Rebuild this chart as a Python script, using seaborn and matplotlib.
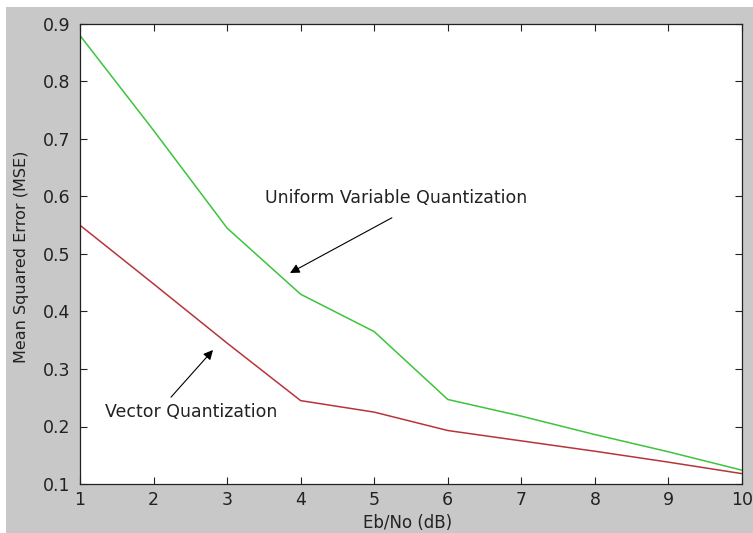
import numpy as np
import pandas as pd
import matplotlib
matplotlib.use("Agg")
import matplotlib.pyplot as plt
from matplotlib.patches import Rectangle
import seaborn as sns

# values
ebno = [1, 2, 3, 4, 5, 6, 7, 8, 9, 10]
mse_uniform = [0.880, 0.715, 0.545, 0.430, 0.365, 0.247, 0.218, 0.186, 0.156, 0.124]
mse_vector = [0.550, 0.448, 0.345, 0.245, 0.225, 0.193, 0.175, 0.157, 0.138, 0.118]
x_ticks = [1, 2, 3, 4, 5, 6, 7, 8, 9, 10]
y_ticks = [0.1, 0.2, 0.3, 0.4, 0.5, 0.6, 0.7, 0.8, 0.9]

df = pd.DataFrame({"ebno": ebno, "uniform": mse_uniform, "vector": mse_vector})

sns.set_style("ticks")
plt.rcParams["font.family"] = ["DejaVu Sans"]

gray = "#c8c8c8"
W, H = 753, 533
fig = plt.figure(figsize=(W / 100, H / 100), dpi=100, facecolor="white")
# gray window area, leaving a thin white strip on top and left
fig.patches.append(Rectangle((6 / W, 0), 1, 1 - 7 / H, transform=fig.transFigure,
                             facecolor=gray, edgecolor="none", zorder=-10))
ax = fig.add_axes([80 / W, 1 - 484 / H, (742 - 80) / W, (484 - 24) / H])
ax.set_facecolor("white")

sns.lineplot(data=df, x="ebno", y="uniform", ax=ax, color="#3cc43c", linewidth=1.1)
sns.lineplot(data=df, x="ebno", y="vector", ax=ax, color="#b8343a", linewidth=1.1)

ax.set_xlim(1, 10)
ax.set_ylim(0.1, 0.9)
ax.set_xticks(x_ticks)
ax.set_yticks(y_ticks)
ax.set_xticklabels([str(t) for t in x_ticks])
ax.set_yticklabels([f"{t:.1f}" for t in y_ticks])
ax.tick_params(direction="in", length=5, width=0.8, top=True, right=True,
               labelsize=12.5, colors="#222222")
ax.tick_params(axis="x", pad=5)
ax.tick_params(axis="y", pad=7)
for sp in ax.spines.values():
    sp.set_visible(True)
    sp.set_color("#222222")
    sp.set_linewidth(0.9)

ax.set_xlabel("Eb/No (dB)", fontsize=12, color="#222222")
ax.set_ylabel("Mean Squared Error (MSE)", fontsize=11.5, color="#222222")
ax.xaxis.label.set_va("center")
ax.yaxis.label.set_va("center")
ax.xaxis.set_label_coords((408 - 80) / 662, (484 - 523) / 460)
ax.yaxis.set_label_coords((22 - 80) / 662, (484 - 257) / 460)

# text labels and their arrows
arrow_kw = dict(arrowstyle="-|>", color="black", lw=0.8,
                shrinkA=0, shrinkB=0, mutation_scale=14)
ax.text(3.51, 0.598, "Uniform Variable Quantization", fontsize=12.5,
        va="center", ha="left", color="#222222")
ax.annotate("", xy=(3.855, 0.467), xytext=(5.24, 0.563), arrowprops=arrow_kw)
ax.text(1.34, 0.226, "Vector Quantization", fontsize=12.5,
        va="center", ha="left", color="#222222")
ax.annotate("", xy=(2.808, 0.333), xytext=(2.237, 0.251), arrowprops=arrow_kw)

fig.savefig("out.png", dpi=100, facecolor=fig.get_facecolor())
